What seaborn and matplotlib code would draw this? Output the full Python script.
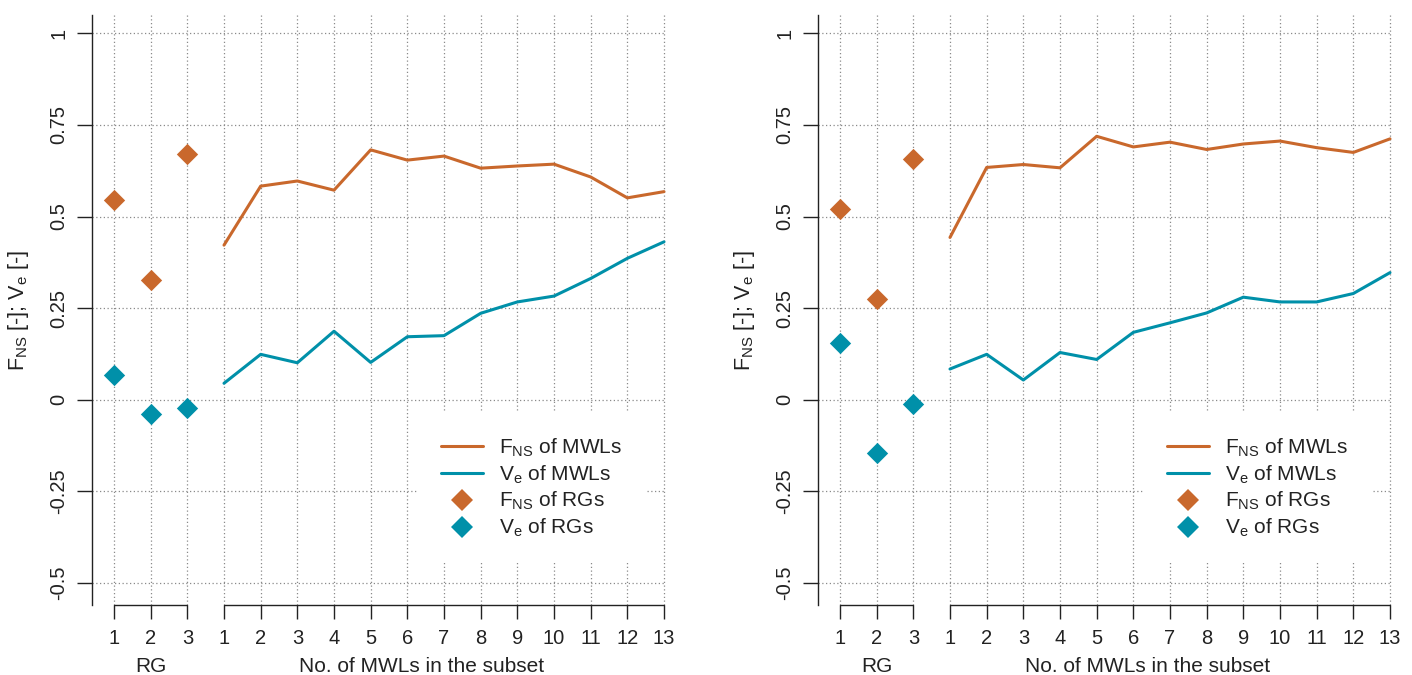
import numpy as np
import pandas as pd
import matplotlib
matplotlib.use("Agg")
import matplotlib.pyplot as plt
import matplotlib.transforms as mtransforms
from matplotlib.lines import Line2D
import seaborn as sns

# values (two panels)
rg_labels = ["1", "2", "3"]
mwl_labels = [str(i) for i in range(1, 14)]

left_rg_fns = [0.546, 0.326, 0.672]
left_rg_ve = [0.067, -0.039, -0.022]
left_mwl_fns = [0.422, 0.583, 0.597, 0.572, 0.682, 0.654, 0.665,
                0.632, 0.638, 0.643, 0.608, 0.551, 0.568]
left_mwl_ve = [0.045, 0.124, 0.101, 0.187, 0.102, 0.172, 0.175,
               0.236, 0.267, 0.283, 0.331, 0.386, 0.431]

right_rg_fns = [0.520, 0.275, 0.656]
right_rg_ve = [0.154, -0.144, -0.012]
right_mwl_fns = [0.443, 0.634, 0.642, 0.633, 0.719, 0.690, 0.703,
                 0.683, 0.698, 0.706, 0.688, 0.675, 0.712]
right_mwl_ve = [0.084, 0.124, 0.054, 0.129, 0.110, 0.184, 0.210,
                0.237, 0.280, 0.267, 0.267, 0.290, 0.347]

y_ticks = [1, 0.75, 0.5, 0.25, 0, -0.25, -0.5]
y_ticklabels = ["1", "0.75", "0.5", "0.25", "0", "-0.25", "-0.5"]

orange = "#C9682C"
teal = "#0090A9"
ink = "#222222"

sns.set_style("white")
plt.rcParams["font.family"] = ["Liberation Sans", "DejaVu Sans"]
plt.rcParams["mathtext.fontset"] = "custom"
plt.rcParams["mathtext.rm"] = "Liberation Sans"
plt.rcParams["mathtext.it"] = "Liberation Sans"

fig = plt.figure(figsize=(14.12, 6.75), dpi=100)
ax_l = fig.add_axes([92 / 1412, 70 / 675, 594 / 1412, 590 / 675])
ax_r = fig.add_axes([818 / 1412, 70 / 675, 594 / 1412, 590 / 675])

rg_pos = np.arange(1, len(rg_labels) + 1)
mwl_pos = np.arange(len(rg_labels) + 1, len(rg_labels) + len(mwl_labels) + 1)


def draw_panel(ax, rg_fns, rg_ve, mwl_fns, mwl_ve):
    ax.set_xlim(0.4, 16.6)
    ax.set_ylim(-0.56, 1.05)

    # dotted grid
    ax.vlines(np.concatenate([rg_pos, mwl_pos]), -0.56, 1.05,
              colors="#8a8a8a", linestyles=(0, (1, 2)), lw=0.9, zorder=0)
    ax.hlines(y_ticks, 0.4, mwl_pos[-1],
              colors="#8a8a8a", linestyles=(0, (1, 2)), lw=0.9, zorder=0)

    mwl = pd.DataFrame({"x": mwl_pos, "fns": mwl_fns, "ve": mwl_ve})
    rg = pd.DataFrame({"x": rg_pos, "fns": rg_fns, "ve": rg_ve})
    sns.lineplot(data=mwl, x="x", y="fns", color=orange, lw=2.2, ax=ax)
    sns.lineplot(data=mwl, x="x", y="ve", color=teal, lw=2.2, ax=ax)
    sns.scatterplot(data=rg, x="x", y="fns", color=orange, marker="D",
                    s=118, linewidth=0, ax=ax, zorder=3)
    sns.scatterplot(data=rg, x="x", y="ve", color=teal, marker="D",
                    s=118, linewidth=0, ax=ax, zorder=3)

    for side in ["top", "right", "bottom"]:
        ax.spines[side].set_visible(False)
    ax.spines["left"].set_color(ink)
    ax.spines["left"].set_linewidth(1.0)

    ax.set_yticks(y_ticks)
    ax.set_yticklabels(y_ticklabels, rotation=90, va="center")
    ax.set_xticks(np.concatenate([rg_pos, mwl_pos]))
    ax.set_xticklabels(rg_labels + mwl_labels)
    ax.tick_params(axis="y", direction="out", length=11, width=1.0,
                   pad=6, labelsize=14.5, colors=ink, left=True)
    ax.tick_params(axis="x", direction="out", length=10, width=1.0,
                   pad=7, labelsize=14.5, colors=ink, bottom=True)

    # two separate x-axis segments
    trans = mtransforms.blended_transform_factory(ax.transData, ax.transAxes)
    ax.plot([rg_pos[0], rg_pos[-1]], [0, 0], color=ink, lw=1.0,
            transform=trans, clip_on=False)
    ax.plot([mwl_pos[0], mwl_pos[-1]], [0, 0], color=ink, lw=1.0,
            transform=trans, clip_on=False)

    ax.set_xlabel("")
    ax.set_ylabel(r"$\mathrm{F_{NS}}$ [-]; $\mathrm{V_e}$ [-]", fontsize=15.5,
                  color=ink)
    ax.yaxis.set_label_coords(-61 / 594, 0.5)
    ax.text(rg_pos[1], -62 / 590, "RG", transform=trans, ha="center",
            va="center", fontsize=15, color=ink)
    ax.text(9.4, -62 / 590, "No. of MWLs in the subset", transform=trans,
            ha="center", va="center", fontsize=15, color=ink)

    handles = [
        Line2D([], [], color=orange, lw=2.2),
        Line2D([], [], color=teal, lw=2.2),
        Line2D([], [], color=orange, marker="D", ls="none", ms=10.8, mew=0),
        Line2D([], [], color=teal, marker="D", ls="none", ms=10.8, mew=0),
    ]
    labels = [r"$\mathrm{F_{NS}}$ of MWLs", r"$\mathrm{V_e}$ of MWLs",
              r"$\mathrm{F_{NS}}$ of RGs", r"$\mathrm{V_e}$ of RGs"]
    leg = ax.legend(handles, labels, loc="upper left",
                    bbox_to_anchor=(315 / 594, 203 / 590), fontsize=15,
                    handlelength=2.0, handletextpad=0.75, labelspacing=0.22,
                    frameon=True, framealpha=1, facecolor="white",
                    edgecolor="none", borderpad=1.15, fancybox=False)
    for t in leg.get_texts():
        t.set_color(ink)


draw_panel(ax_l, left_rg_fns, left_rg_ve, left_mwl_fns, left_mwl_ve)
draw_panel(ax_r, right_rg_fns, right_rg_ve, right_mwl_fns, right_mwl_ve)

fig.savefig("out.png", dpi=100)
